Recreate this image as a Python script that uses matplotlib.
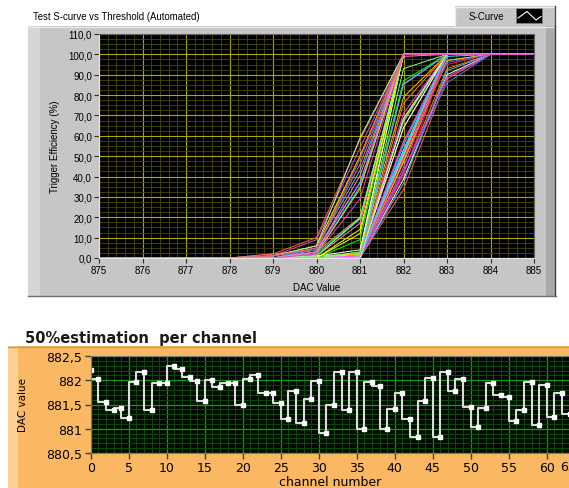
import matplotlib
matplotlib.use("Agg")
import matplotlib.pyplot as plt
from matplotlib.patches import Rectangle
from matplotlib.ticker import MultipleLocator, FuncFormatter, FixedLocator, FixedFormatter
import numpy as np

W, H = 569, 489

# DAC scan points; efficiency is 0 % below 879 and 100 % from 884 on
dac_values = [875, 876, 877, 878, 879, 880, 881, 882, 883, 884, 885]
eff_low = [0, 0, 0, 0]
eff_high = [100, 100]

# trigger efficiency (%) per channel at DAC 879 .. 883
eff_879 = [0, 0, 0, 0, 0, 0, 0, 0, 0, 0, 0, 0, 0, 0, 0, 0,
           0, 0, 0, 0, 0, 0, 0, 0, 0, 0, 0, 0, 0, 0, 0, 1,
           0, 0, 0, 0, 1, 0, 0, 2, 0, 0, 0, 2, 0, 0, 1, 0,
           0, 0, 0, 1, 0, 0, 0, 0, 0, 0, 0, 1, 0, 0, 0, 0]
eff_880 = [0, 0, 0, 1, 0, 2, 0, 0, 3, 0, 0, 0, 0, 0, 0, 0,
           0, 0, 0, 0, 0, 0, 0, 0, 0, 1, 4, 0, 5, 1, 0, 9,
           1, 0, 2, 0, 6, 0, 0, 4, 1, 0, 3, 10, 0, 0, 6, 0,
           0, 0, 0, 4, 0, 0, 0, 0, 3, 1, 0, 5, 0, 2, 0, 2]
eff_881 = [0, 2, 3, 19, 14, 35, 0, 0, 20, 1, 0, 0, 0, 0, 0, 2,
           1, 0, 2, 0, 2, 0, 0, 1, 0, 2, 37, 0, 43, 2, 0, 54,
           4, 0, 19.5, 0, 50, 1, 0, 50, 17, 3, 37, 58, 1, 0, 59, 0,
           1, 0, 9, 48.5, 12, 0, 1, 0, 40.5, 19.5, 0, 46, 0, 34, 0, 29]
eff_882 = [38.7, 49, 87, 100, 100, 100, 52, 41.8, 99, 53, 53, 33.7, 36.7, 47, 50.5, 85,
           49.5, 57.5, 52.5, 52.6, 100, 49, 44.4, 68, 68.5, 93, 100, 64, 100, 79, 50.5, 100,
           100, 40.5, 100, 42.1, 100, 51.5, 57, 100, 100, 67, 100, 100, 85.5, 48, 100, 42.6,
           64, 49, 100, 100, 100, 53, 71, 76, 100, 100, 51.5, 100, 55.5, 100, 68.5, 100]
eff_883 = [90, 100, 100, 100, 100, 100, 100, 93, 100, 100, 97, 88, 92, 97, 100, 100,
           100, 95, 100, 96, 100, 99, 100, 100, 100, 100, 100, 100, 100, 100, 100, 100,
           100, 100, 100, 86, 100, 100, 100, 100, 100, 100, 100, 100, 100, 100, 100, 89,
           100, 100, 100, 100, 100, 100, 100, 100, 100, 100, 100, 100, 100, 100, 100, 100]

# 50 % point of each channel's S-curve
threshold_50 = [882.22, 882.02, 881.56, 881.38, 881.42, 881.23, 881.97, 882.16,
                881.38, 881.94, 881.94, 882.30, 882.24, 882.06, 881.99, 881.58,
                882.01, 881.87, 881.95, 881.95, 881.49, 882.02, 882.10, 881.73,
                881.73, 881.53, 881.21, 881.78, 881.12, 881.62, 881.99, 880.91,
                881.48, 882.16, 881.38, 882.18, 881.00, 881.97, 881.88, 881.00,
                881.40, 881.73, 881.21, 880.83, 881.58, 882.04, 880.83, 882.16,
                881.78, 882.02, 881.45, 881.03, 881.43, 881.94, 881.70, 881.66,
                881.16, 881.38, 881.97, 881.07, 881.90, 881.24, 881.73, 881.30]
channel_ticks = [0, 5, 10, 15, 20, 25, 30, 35, 40, 45, 50, 55, 60, 63]
channel_labels = ["0", "5", "10", "15", "20", "25", "30", "35", "40", "45",
                  "50", "55", "60", ""]

plot_colors = ["#ffffff", "#ff2020", "#00ff00", "#5070ff", "#ffff00", "#00ffff",
               "#ff40ff", "#ff8000", "#ff80c0", "#80ff80", "#c080ff", "#ff6060",
               "#40c0ff", "#ffc000", "#a0ffa0", "#e040e0"]

TOP_FONT = "Liberation Sans"
BOT_FONT = "DejaVu Sans"


def px_rect(x0, y0, x1, y1):
    return [x0 / W, 1 - y1 / H, (x1 - x0) / W, (y1 - y0) / H]


def comma_fmt(v, _pos=None):
    if abs(v - round(v)) < 1e-6 and v > 500:
        return str(int(round(v)))
    return f"{v:.1f}".replace(".", ",")


fig = plt.figure(figsize=(W / 100, H / 100), dpi=100)
fig.patch.set_facecolor("white")

# pixel-space canvas for the panel frames and captions
bg = fig.add_axes([0, 0, 1, 1], zorder=-1)
bg.set_xlim(0, W)
bg.set_ylim(H, 0)
bg.axis("off")

# grey graph frame
bg.add_patch(Rectangle((28, 27), 528, 270, fc="#c6c6c6", ec="none"))
bg.add_patch(Rectangle((28, 27), 12, 270, fc="#d6d6d6", ec="none"))
bg.add_patch(Rectangle((546, 27), 10, 270, fc="#a9a9a9", ec="none"))
bg.plot([28, 556], [27.5, 27.5], color="#e8e8e8", lw=1)
bg.plot([555.5, 555.5], [27, 297], color="#404040", lw=1)
bg.plot([28, 556], [296.5, 296.5], color="#707070", lw=1)

# legend tab
bg.add_patch(Rectangle((455, 7), 101, 20, fc="#c6c6c6", ec="none"))
bg.plot([455.5, 455.5, 556], [27, 7.5, 7.5], color="#eeeeee", lw=1)
bg.plot([555.5, 555.5], [7, 27], color="#505050", lw=1)
bg.text(486, 17, "S-Curve", family=TOP_FONT, fontsize=7, ha="center", va="center")
bg.add_patch(Rectangle((516, 9), 26, 15, fc="black", ec="#808080", lw=0.6))
bg.plot([518, 527, 536, 541], [19, 12.5, 21, 17.5], color="white", lw=0.8)

bg.text(33, 17, "Test S-curve vs Threshold (Automated)", family=TOP_FONT,
        fontsize=6.9, ha="left", va="center")

# orange chart frame
bg.add_patch(Rectangle((8, 347), 570, 150, fc="#fbb862", ec="none"))
bg.add_patch(Rectangle((8, 347), 10, 150, fc="#fdd196", ec="none"))
bg.plot([8, 569], [347.5, 347.5], color="#d9974a", lw=1)

bg.text(25, 338, "50%estimation  per channel", family=BOT_FONT, fontsize=10.5,
        fontweight="bold", ha="left", va="center", color="#1a1a1a")

# S-curves
ax1 = fig.add_axes(px_rect(99, 35, 534, 259))
ax1.set_facecolor("black")
for i in range(len(eff_879)):
    curve = eff_low + [eff_879[i], eff_880[i], eff_881[i], eff_882[i], eff_883[i]] + eff_high
    ax1.plot(dac_values, curve, color=plot_colors[i % len(plot_colors)], lw=0.7)
ax1.set_xlim(875, 885)
ax1.set_ylim(0, 110)
ax1.xaxis.set_major_locator(MultipleLocator(1))
ax1.xaxis.set_minor_locator(MultipleLocator(0.2))
ax1.yaxis.set_major_locator(MultipleLocator(10))
ax1.yaxis.set_minor_locator(MultipleLocator(2.5))
ax1.yaxis.set_major_formatter(FuncFormatter(comma_fmt))
ax1.set_axisbelow(True)
ax1.grid(which="minor", color="#4a4a00", lw=0.6)
ax1.grid(which="major", color="#a8a800", lw=0.8)
ax1.tick_params(which="minor", length=0)
ax1.tick_params(which="major", length=3.5, width=0.8, color="#303030",
                labelsize=7, pad=1.5)
for lab in ax1.get_xticklabels() + ax1.get_yticklabels():
    lab.set_family(TOP_FONT)
for side in ("left", "bottom"):
    ax1.spines[side].set_color("#e6e6e6")
for side in ("top", "right"):
    ax1.spines[side].set_color("#606060")
ax1.set_xlabel("DAC Value", family=TOP_FONT, fontsize=7)
ax1.xaxis.set_label_coords(0.5, -0.105)
ax1.set_ylabel("Trigger Efficiency (%)", family=TOP_FONT, fontsize=7)
ax1.yaxis.set_label_coords(-0.09, 0.5)

# 50 % estimation per channel
channels = np.arange(len(threshold_50))
ax2 = fig.add_axes(px_rect(90.7, 357, 569.5, 454))
ax2.set_facecolor("#000a00")
ax2.plot(channels, threshold_50, drawstyle="steps-pre", color="#dcdcdc", lw=1.5)
ax2.plot(channels, threshold_50, ls="none", marker="s", ms=3.4, color="white")
ax2.set_xlim(0, 63)
ax2.set_ylim(880.5, 882.5)
ax2.xaxis.set_major_locator(FixedLocator(channel_ticks))
ax2.xaxis.set_major_formatter(FixedFormatter(channel_labels))
ax2.xaxis.set_minor_locator(MultipleLocator(1))
ax2.yaxis.set_major_locator(MultipleLocator(0.5))
ax2.yaxis.set_minor_locator(MultipleLocator(0.1))
ax2.yaxis.set_major_formatter(FuncFormatter(comma_fmt))
ax2.set_axisbelow(True)
ax2.grid(which="minor", color="#0a4a0a", lw=0.7)
ax2.grid(which="major", color="#129a12", lw=0.9)
ax2.tick_params(which="minor", length=0)
ax2.tick_params(which="major", length=4, width=1, color="#404040",
                labelsize=9, pad=2)
for lab in ax2.get_xticklabels() + ax2.get_yticklabels():
    lab.set_family(BOT_FONT)
for spine in ax2.spines.values():
    spine.set_color("#7a7a7a")
ax2.set_xlabel("channel number", family=BOT_FONT, fontsize=9)
ax2.xaxis.set_label_coords(0.5, -0.225)
ax2.set_ylabel("DAC value", family=BOT_FONT, fontsize=7.5)
ax2.yaxis.set_label_coords(-0.131, 0.5)
bg.text(560, 467.5, "63", family=BOT_FONT, fontsize=9, ha="left", va="center")

fig.savefig("out.png", dpi=100)
